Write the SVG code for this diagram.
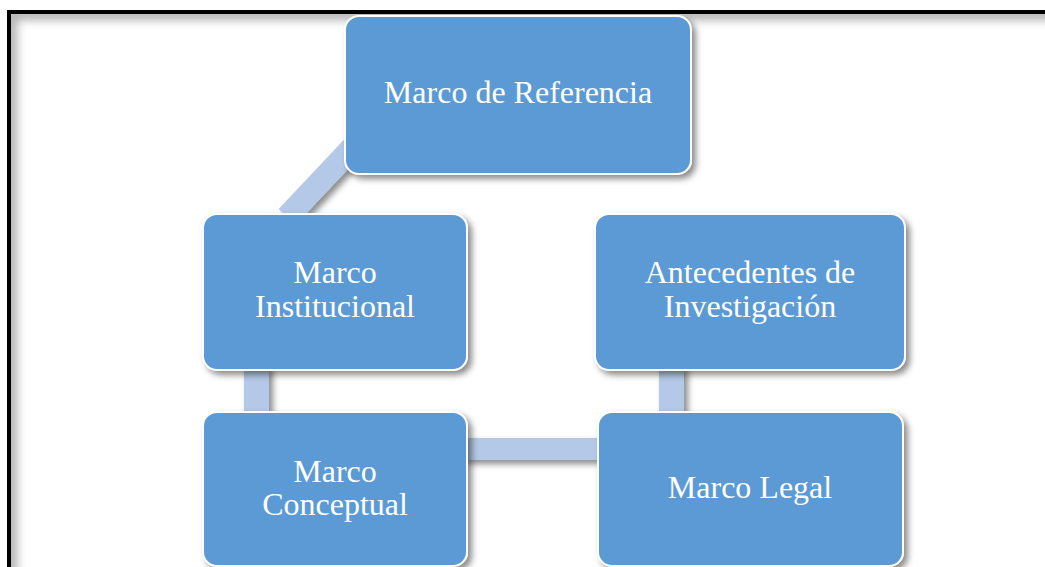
<svg xmlns="http://www.w3.org/2000/svg" width="1045" height="567" viewBox="0 0 1045 567">
  <defs>
    <filter id="shadow" x="-10%" y="-10%" width="130%" height="130%">
      <feDropShadow dx="4" dy="4" stdDeviation="3" flood-color="#000" flood-opacity="0.45"/>
    </filter>
    <filter id="blur" x="-5%" y="-5%" width="110%" height="110%">
      <feGaussianBlur stdDeviation="5"/>
    </filter>
    <clipPath id="inner">
      <rect x="11" y="14" width="1040" height="560"/>
    </clipPath>
    <style>
      .node { fill: #5B9AD5; stroke: #FFFFFF; stroke-width: 2; filter: url(#shadow); }
      .lbl { font-family: "Liberation Serif", "Times New Roman", serif; font-size: 32px; fill: #FFFFFF; text-anchor: middle; }
      .conn { stroke: #B4C9E7; fill: none; stroke-linecap: butt; }
    </style>
  </defs>

  <rect x="0" y="0" width="1045" height="567" fill="#FFFFFF"/>

  <!-- frame -->
  <g id="frame">
    <g clip-path="url(#inner)">
      <rect x="11" y="14" width="1060" height="580" fill="none" stroke="#B0B0B0" stroke-width="12" filter="url(#blur)"/>
    </g>
    <rect x="9" y="12" width="1060" height="580" fill="none" stroke="#000000" stroke-width="4"/>
  </g>

  <!-- connectors -->
  <g id="connectors" filter="url(#shadow)">
    <line class="conn" x1="287" y1="217" x2="369" y2="130" stroke-width="23"/>
    <line class="conn" x1="256.5" y1="365" x2="256.5" y2="416" stroke-width="25"/>
    <line class="conn" x1="671.5" y1="365" x2="671.5" y2="416" stroke-width="25"/>
    <line class="conn" x1="462" y1="449" x2="603" y2="449" stroke-width="22"/>
  </g>

  <g id="node-referencia">
    <rect class="node" x="345" y="16" width="346" height="158" rx="14"/>
    <text class="lbl" x="518" y="103">Marco de Referencia</text>
  </g>

  <g id="node-institucional">
    <rect class="node" x="203" y="214" width="264" height="156" rx="14"/>
    <text class="lbl" x="335" y="283">Marco</text>
    <text class="lbl" x="335" y="317">Institucional</text>
  </g>

  <g id="node-antecedentes">
    <rect class="node" x="595" y="214" width="310" height="156" rx="14"/>
    <text class="lbl" x="750" y="283">Antecedentes de</text>
    <text class="lbl" x="750" y="317">Investigación</text>
  </g>

  <g id="node-conceptual">
    <rect class="node" x="203" y="412" width="264" height="154" rx="14"/>
    <text class="lbl" x="335" y="482">Marco</text>
    <text class="lbl" x="335" y="515">Conceptual</text>
  </g>

  <g id="node-legal">
    <rect class="node" x="598" y="412" width="305" height="154" rx="14"/>
    <text class="lbl" x="750" y="498">Marco Legal</text>
  </g>
</svg>
